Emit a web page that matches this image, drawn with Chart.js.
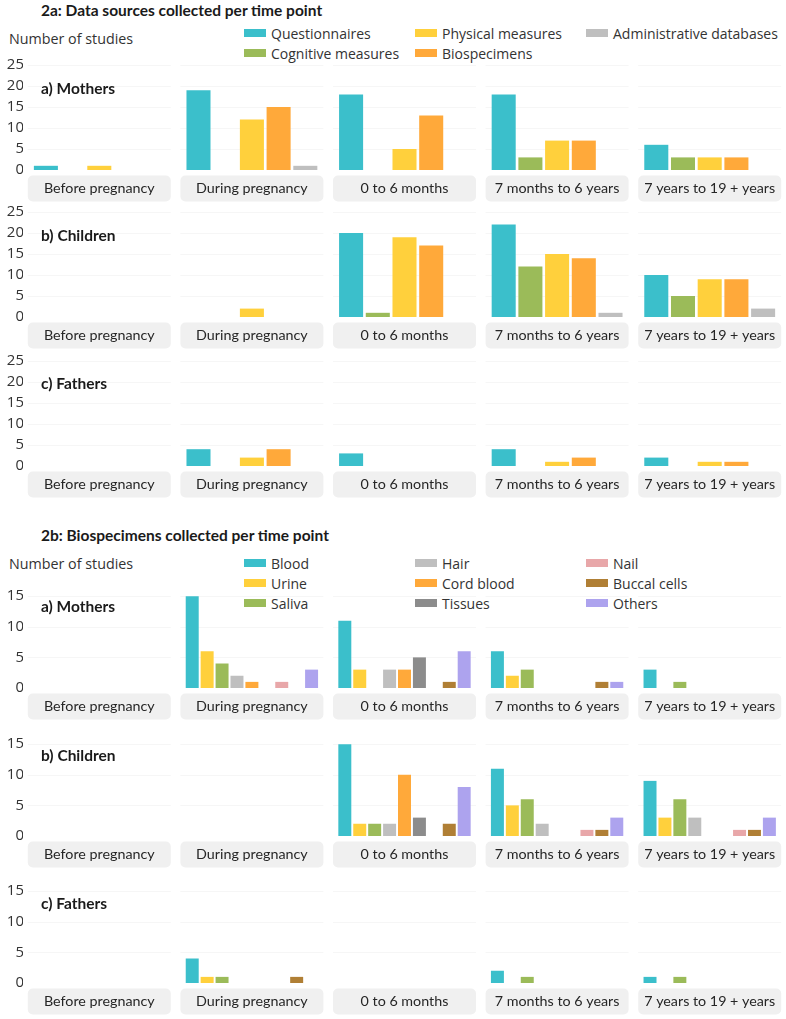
<!DOCTYPE html>
<html>
<head>
<meta charset="utf-8">
<script src="https://cdn.jsdelivr.net/npm/chart.js@4"></script>
<style>
  body { margin: 0; background: #fff; width: 786px; height: 1019px; position: relative; overflow: hidden; font-family: "Open Sans", sans-serif; color: #333; }
  .txt { position: absolute; white-space: nowrap; line-height: 1; transform: translateY(-50%); }
  .title { font: bold 15.5px Lato, sans-serif; color: #1a1a1a; left: 41px; }
  .ylab { font: 14.3px "Open Sans", sans-serif; color: #333; left: 9px; }
  .panel { font: bold 15.5px Lato, sans-serif; color: #1a1a1a; left: 41px; z-index: 2; }
  .legend { position: absolute; left: 244px; display: grid; grid-template-columns: 171px 171px auto; grid-auto-rows: 20px; grid-auto-flow: column; font: 14px "Open Sans", sans-serif; color: #333; }
  .legend div { display: flex; align-items: center; white-space: nowrap; }
  .legend span { display: inline-block; width: 22px; height: 8px; margin-right: 5px; }
  .row { position: absolute; left: 0; }
</style>
</head>
<body>
<div class="txt title" style="top:10px">2a: Data sources collected per time point</div>
<div class="txt ylab" style="top:38px">Number of studies</div>
<div class="legend" id="legendA" style="top:23px; grid-template-rows: repeat(2, 20px)"></div>
<div class="txt panel" style="top:88px">a) Mothers</div>
<div class="txt panel" style="top:235px">b) Children</div>
<div class="txt panel" style="top:383px">c) Fathers</div>

<div class="txt title" style="top:535px">2b: Biospecimens collected per time point</div>
<div class="txt ylab" style="top:563px">Number of studies</div>
<div class="legend" id="legendB" style="top:553px; grid-template-rows: repeat(3, 20px)"></div>
<div class="txt panel" style="top:606px">a) Mothers</div>
<div class="txt panel" style="top:755px">b) Children</div>
<div class="txt panel" style="top:903px">c) Fathers</div>

<script>
const timePoints = ["Before pregnancy", "During pregnancy", "0 to 6 months", "7 months to 6 years", "7 years to 19 + years"];

// 2a: one line per data source, one value per time point
const sourceNames = ["Questionnaires", "Cognitive measures", "Physical measures", "Biospecimens", "Administrative databases"];
const sourceColors = ["#3bbfcb", "#9bbb59", "#ffd03c", "#ffa93a", "#bfbfbf"];
const sourcesMothers = [
  [1, 19, 18, 18, 6],
  [0, 0, 0, 3, 3],
  [1, 12, 5, 7, 3],
  [0, 15, 13, 7, 3],
  [0, 1, 0, 0, 0],
];
const sourcesChildren = [
  [0, 0, 20, 22, 10],
  [0, 0, 1, 12, 5],
  [0, 2, 19, 15, 9],
  [0, 0, 17, 14, 9],
  [0, 0, 0, 1, 2],
];
const sourcesFathers = [
  [0, 4, 3, 4, 2],
  [0, 0, 0, 0, 0],
  [0, 2, 0, 1, 1],
  [0, 4, 0, 2, 1],
  [0, 0, 0, 0, 0],
];

// 2b: one line per specimen type
const specimenNames = ["Blood", "Urine", "Saliva", "Hair", "Cord blood", "Tissues", "Nail", "Buccal cells", "Others"];
const specimenColors = ["#3bbfcb", "#ffd03c", "#9bbb59", "#bfbfbf", "#ffa93a", "#8c8c8c", "#e8a7a9", "#b07f35", "#ada3ee"];
const specimensMothers = [
  [0, 15, 11, 6, 3],
  [0, 6, 3, 2, 0],
  [0, 4, 0, 3, 1],
  [0, 2, 3, 0, 0],
  [0, 1, 3, 0, 0],
  [0, 0, 5, 0, 0],
  [0, 1, 0, 0, 0],
  [0, 0, 1, 1, 0],
  [0, 3, 6, 1, 0],
];
const specimensChildren = [
  [0, 0, 15, 11, 9],
  [0, 0, 2, 5, 3],
  [0, 0, 2, 6, 6],
  [0, 0, 2, 2, 3],
  [0, 0, 10, 0, 0],
  [0, 0, 3, 0, 0],
  [0, 0, 0, 1, 1],
  [0, 0, 2, 1, 1],
  [0, 0, 8, 3, 3],
];
const specimensFathers = [
  [0, 4, 0, 2, 1],
  [0, 1, 0, 0, 0],
  [0, 1, 0, 1, 1],
  [0, 0, 0, 0, 0],
  [0, 0, 0, 0, 0],
  [0, 0, 0, 0, 0],
  [0, 0, 0, 0, 0],
  [0, 1, 0, 0, 0],
  [0, 0, 0, 0, 0],
];

const FACET_W = 143;
const PAD_TOP = 15;
const XAXIS_H = 34;

function buildLegend(id, names, colors) {
  const box = document.getElementById(id);
  names.forEach((n, i) => {
    const d = document.createElement("div");
    d.innerHTML = `<span style="background:${colors[i]}"></span>${n}`;
    box.appendChild(d);
  });
}
buildLegend("legendA", sourceNames, sourceColors);
buildLegend("legendB", specimenNames, specimenColors);

// grey strips under each time point + faint grid per facet
const facetPlugin = {
  id: "facets",
  beforeDraw(chart) {
    const { ctx, chartArea, scales } = chart;
    ctx.save();
    ctx.fillStyle = "#f0f0f0";
    timePoints.forEach((_, i) => {
      const cx = scales.x.getPixelForValue(i);
      ctx.beginPath();
      ctx.roundRect(cx - FACET_W / 2, chartArea.bottom + 5.5, FACET_W, 26, 5);
      ctx.fill();
    });
    ctx.strokeStyle = "#f6f6f6";
    ctx.lineWidth = 1;
    scales.y.ticks.forEach((t) => {
      if (t.value <= 0) return;
      const y = Math.round(scales.y.getPixelForValue(t.value)) + 0.5;
      timePoints.forEach((_, i) => {
        const cx = scales.x.getPixelForValue(i);
        ctx.beginPath();
        ctx.moveTo(cx - FACET_W / 2, y);
        ctx.lineTo(cx + FACET_W / 2, y);
        ctx.stroke();
      });
    });
    ctx.restore();
  },
};

function makeRow(values, names, colors, zeroY, unit, yMax, catPct, barPct) {
  const plotH = unit * yMax;
  const h = PAD_TOP + plotH + XAXIS_H;
  const wrap = document.createElement("div");
  wrap.className = "row";
  wrap.style.top = (zeroY - plotH - PAD_TOP) + "px";
  const cv = document.createElement("canvas");
  cv.width = 786;
  cv.height = h;
  wrap.appendChild(cv);
  document.body.appendChild(wrap);

  new Chart(cv, {
    type: "bar",
    data: {
      labels: timePoints,
      datasets: names.map((n, i) => ({
        label: n,
        data: values[i],
        backgroundColor: colors[i],
        borderWidth: 0,
        categoryPercentage: catPct,
        barPercentage: barPct,
      })),
    },
    options: {
      responsive: false,
      animation: false,
      layout: { padding: { top: PAD_TOP, bottom: 0, left: 0, right: 0 } },
      plugins: { legend: { display: false }, tooltip: { enabled: false } },
      scales: {
        x: {
          grid: { display: false, drawTicks: false },
          border: { display: false },
          ticks: {
            font: { family: "Lato", size: 14.3 },
            color: "#262626",
            padding: 10,
            maxRotation: 0,
            autoSkip: false,
          },
          afterFit: (s) => { s.height = XAXIS_H; },
        },
        y: {
          min: 0,
          max: yMax,
          grid: { display: false, drawTicks: false },
          border: { display: false },
          ticks: {
            stepSize: 5,
            includeBounds: false,
            font: { family: "Open Sans", size: 15 },
            color: "#333",
            padding: -1,
          },
          afterFit: (s) => { s.width = 23; },
        },
      },
    },
    plugins: [facetPlugin],
  });
}

// 2a rows
makeRow(sourcesMothers, sourceNames, sourceColors, 169.5, 4.2, 25, 0.875, 0.9);
makeRow(sourcesChildren, sourceNames, sourceColors, 316.7, 4.2, 25, 0.875, 0.9);
makeRow(sourcesFathers, sourceNames, sourceColors, 466, 4.2, 25, 0.875, 0.9);

// 2b rows
makeRow(specimensMothers, specimenNames, specimenColors, 688.3, 6.15, 16, 0.88, 0.87);
makeRow(specimensChildren, specimenNames, specimenColors, 836, 6.15, 16, 0.88, 0.87);
makeRow(specimensFathers, specimenNames, specimenColors, 983.3, 6.15, 16, 0.88, 0.87);
</script>
</body>
</html>
